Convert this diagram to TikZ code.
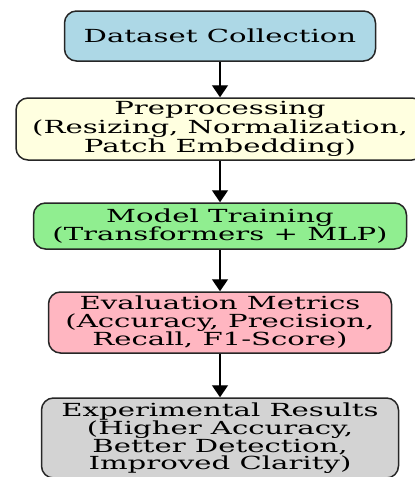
\documentclass[tikz,border=0pt]{standalone}
\usepackage{fontspec}
\setmainfont[FakeStretch=1.62]{DejaVu Serif}
\usetikzlibrary{arrows.meta}
\definecolor{dataBlue}{RGB}{173,216,230}
\definecolor{prepYellow}{RGB}{255,255,224}
\definecolor{trainGreen}{RGB}{144,238,144}
\definecolor{evalPink}{RGB}{255,182,193}
\definecolor{resGray}{RGB}{211,211,211}
\begin{document}
\begin{tikzpicture}[x=1pt, y=-1pt, >={Triangle[width=16pt,length=12pt]},
  font=\fontsize{18}{17.4}\selectfont,
  stage/.style={draw=black!85, line width=1.5pt, rounded corners=12pt, align=center, inner sep=0pt, text=black},
  flow/.style={->, line width=1.4pt}]
\useasboundingbox (0,0) rectangle (415,477);
% pipeline stages, top to bottom
\foreach \n/\y/\w/\h/\col/\txt in {
  data/36/311/50/dataBlue/{Dataset Collection},
  prep/129/408/62/prepYellow/{Preprocessing\\(Resizing, Normalization,\\Patch Embedding)},
  train/226/373/46/trainGreen/{Model Training\\(Transformers + MLP)},
  eval/322.5/343/61/evalPink/{Evaluation Metrics\\(Accuracy, Precision,\\Recall, F1-Score)},
  res/438/357/80/resGray/{Experimental Results\\(Higher Accuracy,\\Better Detection,\\Improved Clarity)}} {
  \node[stage, fill=\col, minimum width=\w pt, minimum height=\h pt] (\n) at (220,\y) {\txt};
}
\foreach \a/\b in {data/prep, prep/train, train/eval, eval/res}
  \draw[flow] (\a) -- (\b);
\end{tikzpicture}
\end{document}
